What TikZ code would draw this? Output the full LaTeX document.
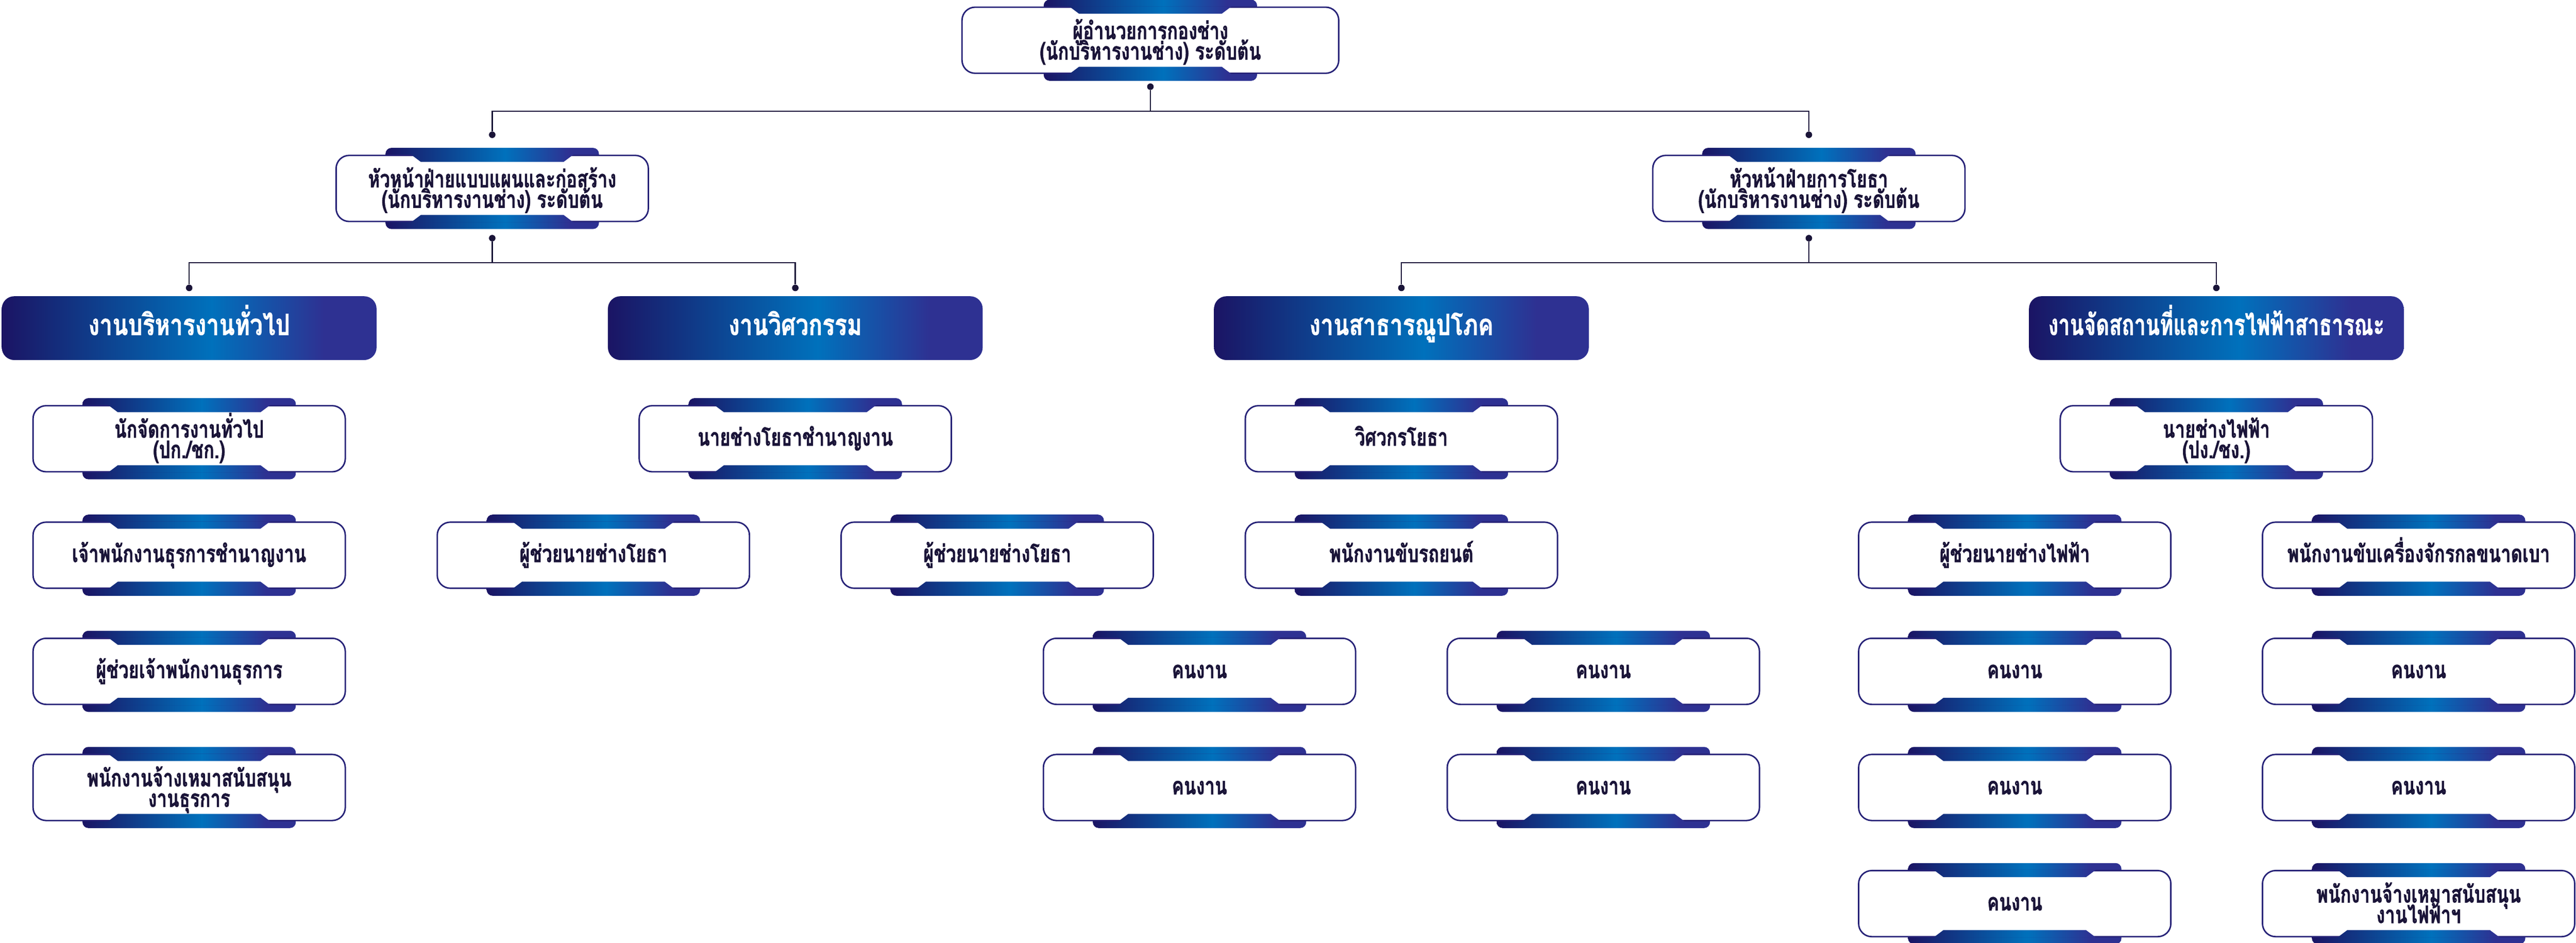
\documentclass[tikz,border=0pt]{standalone}
\usepackage{fontspec}
\newfontfamily\thaifont[Script=Thai, FakeStretch=0.74, BoldFeatures={FakeBold=1.2}]{Loma}
\newfontfamily\thaiunit[Script=Thai, FakeStretch=0.78, BoldFeatures={FakeBold=1.2}]{Loma}
\newfontfamily\thaitight[Script=Thai, FakeStretch=0.70, BoldFeatures={FakeBold=1.2}]{Loma}
\usetikzlibrary{positioning}
\definecolor{navyA}{HTML}{1B1464}
\definecolor{blueB}{HTML}{0071BC}
\definecolor{purpC}{HTML}{2E3192}
\definecolor{ink}{HTML}{1A1438}
\definecolor{rim}{HTML}{262277}
\pgfdeclarehorizontalshading{orgshade}{100bp}{color(0bp)=(navyA); color(25bp)=(navyA); color(53bp)=(blueB); color(68bp)=(purpC); color(75bp)=(purpC); color(100bp)=(purpC)}

% white box with a shaded tab on top and bottom
\newcommand{\tabbox}[4][]{%
  \node[tabshape] at (#3) {};
  \node[orgbox, #1] (#2) at (#3) {#4};
  \foreach \s in {1,-1}{%
    \begin{scope}[shift={(#3)}, yscale=\s]
      \clip (-2.48,1.035) -- (2.48,1.035) -- (2.18,0.81) -- (-2.18,0.81) -- cycle;
      \shade[shading=orgshade] (-3.26,-1.24) rectangle (3.26,1.24);
    \end{scope}}%
}

\begin{document}
\lineskiplimit=-100pt
\lineskip=0pt
\begin{tikzpicture}[
    orgbox/.style={draw=rim, fill=white, line width=0.045cm, rounded corners=0.4cm,
        minimum width=9.54cm, minimum height=2.02cm, align=center, text=ink,
        inner sep=0pt, text height=12pt, text depth=0pt,
        font=\thaifont\bfseries\fontsize{21}{17.8}\selectfont},
    twoline/.style={text height=33.8pt},
    tabshape/.style={shade, shading=orgshade, rounded corners=0.18cm,
        minimum width=6.52cm, minimum height=2.48cm, inner sep=0pt},
    unitbox/.style={shade, shading=orgshade, rounded corners=0.38cm,
        minimum width=11.45cm, minimum height=1.95cm, text=white, inner sep=0pt,
        text height=12pt, text depth=0pt,
        font=\thaiunit\bfseries\fontsize{25.5}{28}\selectfont},
    dot/.style={circle, fill=ink, inner sep=0pt, minimum size=0.2cm},
    link/.style={draw=ink, line width=0.04cm}]
    \useasboundingbox (0,0) rectangle (78.71,-28.82);

    % top levels
    \tabbox[twoline, minimum width=11.51cm]{dir}{35.15,-1.23}{ผู้อำนวยการกองช่าง\\(นักบริหารงานช่าง) ระดับต้น}
    \tabbox[twoline]{plan}{15.04,-5.76}{หัวหน้าฝ่ายแบบแผนและก่อสร้าง\\(นักบริหารงานช่าง) ระดับต้น}
    \tabbox[twoline]{works}{55.27,-5.76}{หัวหน้าฝ่ายการโยธา\\(นักบริหารงานช่าง) ระดับต้น}

    \node [unitbox] at (5.78,-10.03)  (gen)  {งานบริหารงานทั่วไป};
    \node [unitbox] at (24.30,-10.03) (eng)  {งานวิศวกรรม};
    \node [unitbox] at (42.82,-10.03) (util) {งานสาธารณูปโภค};
    \node [unitbox, font=\thaitight\bfseries\fontsize{25.5}{28}\selectfont]
        at (67.72,-10.03) (elec) {งานจัดสถานที่และการไฟฟ้าสาธารณะ};

    % connectors
    \node [dot] at (35.15,-2.65) (dirdot) {};
    \node [dot] at (15.04,-4.12) (plantop) {};
    \node [dot] at (55.27,-4.12) (workstop) {};
    \node [dot] at (15.04,-7.28) (plandot) {};
    \node [dot] at (55.27,-7.28) (worksdot) {};
    \node [dot] at (5.78,-8.80)  (gentop) {};
    \node [dot] at (24.30,-8.80) (engtop) {};
    \node [dot] at (42.82,-8.80) (utiltop) {};
    \node [dot] at (67.72,-8.80) (electop) {};
    \coordinate (dirj)   at (35.15,-3.40);
    \coordinate (planj)  at (15.04,-8.03);
    \coordinate (worksj) at (55.27,-8.03);
    \draw[link] (dirdot) -- (dirj) -| (plantop) (dirj) -| (workstop);
    \draw[link] (plandot) -- (planj) -| (gentop) (planj) -| (engtop);
    \draw[link] (worksdot) -- (worksj) -| (utiltop) (worksj) -| (electop);

    % general administration
    \tabbox[twoline]{gen1}{5.78,-13.41}{นักจัดการงานทั่วไป\\(ปก./ชก.)}
    \tabbox{gen2}{5.78,-16.97}{เจ้าพนักงานธุรการชำนาญงาน}
    \tabbox{gen3}{5.78,-20.52}{ผู้ช่วยเจ้าพนักงานธุรการ}
    \tabbox[twoline]{gen4}{5.78,-24.07}{พนักงานจ้างเหมาสนับสนุน\\งานธุรการ}

    % engineering
    \tabbox{eng1}{24.30,-13.41}{นายช่างโยธาชำนาญงาน}
    \tabbox{eng2a}{18.13,-16.97}{ผู้ช่วยนายช่างโยธา}
    \tabbox{eng2b}{30.47,-16.97}{ผู้ช่วยนายช่างโยธา}

    % public utilities
    \tabbox{util1}{42.82,-13.41}{วิศวกรโยธา}
    \tabbox{util2}{42.82,-16.97}{พนักงานขับรถยนต์}
    \tabbox{util3a}{36.65,-20.52}{คนงาน}
    \tabbox{util3b}{48.99,-20.52}{คนงาน}
    \tabbox{util4a}{36.65,-24.07}{คนงาน}
    \tabbox{util4b}{48.99,-24.07}{คนงาน}

    % venues and public lighting
    \tabbox[twoline]{elec1}{67.72,-13.41}{นายช่างไฟฟ้า\\(ปง./ชง.)}
    \tabbox{elec2a}{61.56,-16.97}{ผู้ช่วยนายช่างไฟฟ้า}
    \tabbox{elec2b}{73.90,-16.97}{พนักงานขับเครื่องจักรกลขนาดเบา}
    \tabbox{elec3a}{61.56,-20.52}{คนงาน}
    \tabbox{elec3b}{73.90,-20.52}{คนงาน}
    \tabbox{elec4a}{61.56,-24.07}{คนงาน}
    \tabbox{elec4b}{73.90,-24.07}{คนงาน}
    \tabbox{elec5a}{61.56,-27.62}{คนงาน}
    \tabbox[twoline]{elec5b}{73.90,-27.62}{พนักงานจ้างเหมาสนับสนุน\\งานไฟฟ้าฯ}
\end{tikzpicture}
\end{document}
